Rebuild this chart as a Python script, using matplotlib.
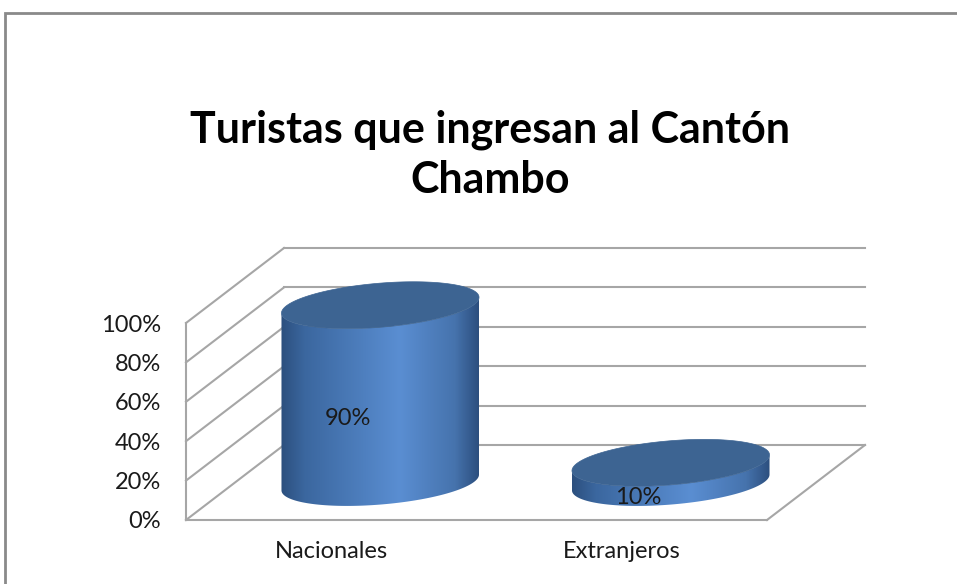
import numpy as np
import matplotlib
matplotlib.use("Agg")
import matplotlib.pyplot as plt
from matplotlib.patches import Polygon, Rectangle
from matplotlib.colors import LinearSegmentedColormap
from matplotlib.ticker import PercentFormatter

# data
categories = ["Nacionales", "Extranjeros"]
values = [0.90, 0.10]
value_labels = ["90%", "10%"]
yticks = [0.0, 0.2, 0.4, 0.6, 0.8, 1.0]
title = "Turistas que ingresan al Cantón\nChambo"

plt.rcParams['font.family'] = ['Lato', 'DejaVu Sans']

W, H = 957, 584
fig = plt.figure(figsize=(W / 100, H / 100), dpi=100)
fig.patch.set_facecolor("white")

# front plane of the 3d box, in pixels
left, right, bottom, top = 186, 767, 520, 323
ax = fig.add_axes([left / W, 1 - bottom / H, (right - left) / W, (bottom - top) / H])
ax.set_facecolor("none")

# depth offset of the back wall, in data units
dx = 98 / ((right - left) / 2)
dy = 75 / (bottom - top)

grid_col = "#a6a6a6"
lw = 1.5

# walls and floor
for v in yticks:
    ax.plot([0, dx], [v, v + dy], color=grid_col, lw=lw, zorder=1, clip_on=False)
    ax.plot([dx, 2 + dx], [v + dy, v + dy], color=grid_col, lw=lw, zorder=1, clip_on=False)
ax.plot([0, 0], [0, 1], color=grid_col, lw=lw, zorder=1, clip_on=False)
ax.plot([0, 2], [0, 0], color=grid_col, lw=lw, zorder=1, clip_on=False)
ax.plot([2, 2 + dx], [0, dy], color=grid_col, lw=lw, zorder=1, clip_on=False)

# cylinders
a = 0.34      # half width (x units)
b = 0.112     # half height of ellipse (y units)
k = 0.04      # tilt of ellipse
cmap = LinearSegmentedColormap.from_list(
    "cyl", [(0, "#2c4f7e"), (0.12, "#3b679f"), (0.6, "#5a8ed2"),
            (0.88, "#4673ad"), (1.0, "#2c4f7e")])
grad = np.linspace(0, 1, 256).reshape(1, -1)

for i, (cat, v) in enumerate(zip(categories, values)):
    cx = i + 0.5 + dx / 2
    y0 = dy / 2
    y1 = v + dy / 2
    t_front = np.linspace(np.pi, 2 * np.pi, 100)
    bx = cx + a * np.cos(t_front)
    by = y0 + b * np.sin(t_front) + k * np.cos(t_front)
    ty = y1 + b * np.sin(t_front) + k * np.cos(t_front)
    body = np.vstack([np.column_stack([bx, by]),
                      np.column_stack([bx[::-1], ty[::-1]])])
    poly = Polygon(body, closed=True, facecolor="none", edgecolor="none",
                   zorder=2, clip_on=False)
    ax.add_patch(poly)
    im = ax.imshow(grad, extent=[cx - a, cx + a, y0 - 0.2, y1 + 0.2],
                   aspect="auto", cmap=cmap, zorder=2, interpolation="bilinear")
    im.set_clip_path(poly)
    im.set_clip_box(fig.bbox)

    t = np.linspace(0, 2 * np.pi, 200)
    top_pts = np.column_stack([cx + a * np.cos(t),
                               y1 + b * np.sin(t) + k * np.cos(t)])
    ax.add_patch(Polygon(top_pts, closed=True, facecolor="#3d6492",
                         edgecolor="#3d6492", lw=0.5, zorder=3, clip_on=False))

    ax.text(i + 0.5 + 0.17 * dx, v / 2 + 0.17 * dy, value_labels[i],
            ha="center", va="center", fontsize=17, color="#1a1a1a", zorder=4)

ax.set_xlim(0, 2)
ax.set_ylim(0, 1)
ax.set_xticks([0.5, 1.5])
ax.set_xticklabels(categories)
ax.set_yticks(yticks)
ax.yaxis.set_major_formatter(PercentFormatter(1.0, decimals=0))
ax.tick_params(axis="both", length=0, labelsize=17, labelcolor="#1a1a1a")
ax.tick_params(axis="y", pad=18)
ax.tick_params(axis="x", pad=15)
for s in ax.spines.values():
    s.set_visible(False)

fig.text(490 / W, 1 - 155 / H, title, ha="center", va="center",
         fontsize=31, fontweight="bold", linespacing=1.3, color="black")

# chart border
fig.patches.append(Rectangle((5 / W, -0.1), 1.2, 1 - 13 / H + 0.1,
                             transform=fig.transFigure, fill=False,
                             edgecolor="#8a8a8a", lw=2))

fig.savefig("out.png", dpi=100)
